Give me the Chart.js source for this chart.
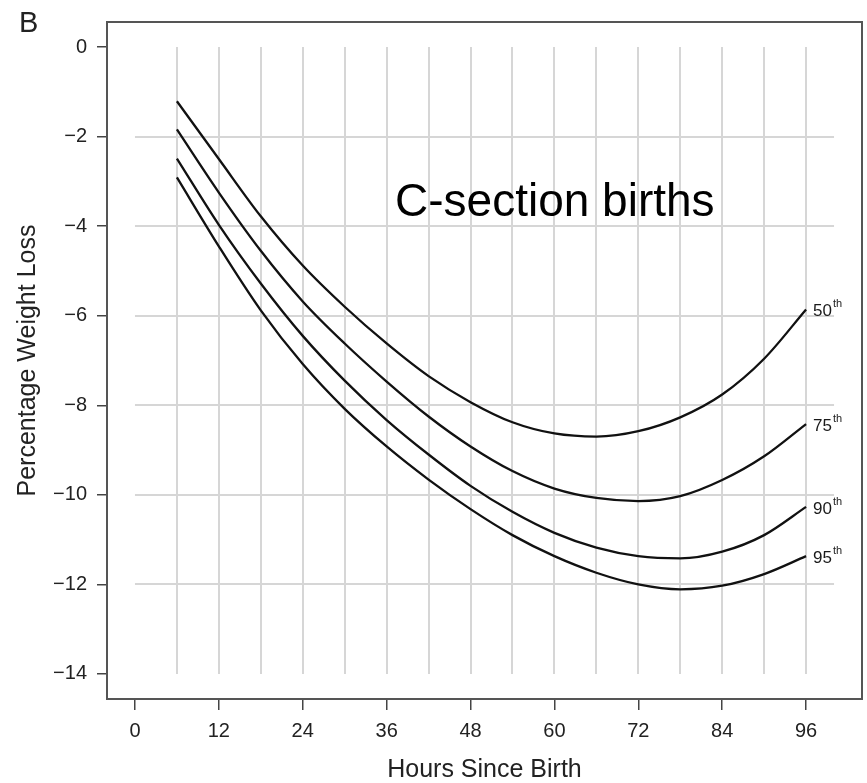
<!DOCTYPE html>
<html lang="en">
<head>
  <meta charset="UTF-8">
  <title>Percentage Weight Loss - C-section births</title>
  <script src="https://cdn.jsdelivr.net/npm/chart.js"></script>
  <style>
    body { margin: 0; padding: 0; background: #fff; }
    canvas { display: block; }
  </style>
</head>
<body>
  <canvas id="chart" width="867" height="783"></canvas>

  <script>
    // hours since birth (one point per vertical grid line)
    const hours = [6, 12, 18, 24, 30, 36, 42, 48, 54, 60, 66, 72, 78, 84, 90, 96];

    // percentage weight loss
    const p50 = [-1.21, -2.50, -3.78, -4.88, -5.80, -6.62, -7.35, -7.93, -8.38, -8.63, -8.70, -8.58, -8.27, -7.76, -6.96, -5.86];
    const p75 = [-1.84, -3.25, -4.55, -5.68, -6.62, -7.47, -8.25, -8.92, -9.47, -9.86, -10.07, -10.14, -10.03, -9.67, -9.14, -8.42];
    const p90 = [-2.49, -3.97, -5.28, -6.45, -7.45, -8.33, -9.10, -9.80, -10.38, -10.85, -11.18, -11.37, -11.42, -11.27, -10.90, -10.27];
    const p95 = [-2.91, -4.45, -5.88, -7.08, -8.08, -8.92, -9.66, -10.32, -10.90, -11.37, -11.74, -12.00, -12.11, -12.03, -11.77, -11.37];

    const pctNames = ['50', '75', '90', '95'];

    const xTicks = [0, 12, 24, 36, 48, 60, 72, 84, 96];
    const yTicks = [0, -2, -4, -6, -8, -10, -12, -14];
    const vGrid = [6, 12, 18, 24, 30, 36, 42, 48, 54, 60, 66, 72, 78, 84, 90, 96];
    const hGrid = [-2, -4, -6, -8, -10, -12];

    const FONT = '"Liberation Sans", Arial, Helvetica, sans-serif';
    Chart.defaults.font.family = FONT;
    Chart.defaults.color = '#222';

    // light grid that only covers the data region, plus the frame and text
    const decor = {
      id: 'decor',
      beforeDatasetsDraw(chart) {
        const ctx = chart.ctx, xs = chart.scales.x, ys = chart.scales.y;
        ctx.save();
        ctx.strokeStyle = '#d6d6d6';
        ctx.lineWidth = 2;
        vGrid.forEach(h => {
          const px = Math.round(xs.getPixelForValue(h));
          ctx.beginPath();
          ctx.moveTo(px, ys.getPixelForValue(0));
          ctx.lineTo(px, ys.getPixelForValue(-14));
          ctx.stroke();
        });
        hGrid.forEach(v => {
          const py = Math.round(ys.getPixelForValue(v));
          ctx.beginPath();
          ctx.moveTo(xs.getPixelForValue(0), py);
          ctx.lineTo(xs.getPixelForValue(100), py);
          ctx.stroke();
        });

        ctx.fillStyle = '#000';
        ctx.font = '46px ' + FONT;
        ctx.textAlign = 'left';
        ctx.textBaseline = 'alphabetic';
        ctx.fillText('C-section births', xs.getPixelForValue(37.2), ys.getPixelForValue(-3.78));
        ctx.restore();
      },
      afterDatasetsDraw(chart) {
        const ctx = chart.ctx, a = chart.chartArea;
        ctx.save();
        ctx.strokeStyle = '#555';
        ctx.lineWidth = 2;
        ctx.strokeRect(a.left, a.top, a.right - a.left, a.bottom - a.top);

        // percentile labels at the line ends
        chart.data.datasets.forEach((ds, i) => {
          const pt = chart.getDatasetMeta(i).data[ds.data.length - 1];
          const x = pt.x + 7, y = pt.y + 2;
          ctx.fillStyle = '#1a1a1a';
          ctx.textBaseline = 'middle';
          ctx.font = '17px ' + FONT;
          ctx.fillText(pctNames[i], x, y);
          const w = ctx.measureText(pctNames[i]).width;
          ctx.font = '11px ' + FONT;
          ctx.fillText('th', x + w + 1, y - 7);
        });

        ctx.font = '29px ' + FONT;
        ctx.fillStyle = '#222';
        ctx.textBaseline = 'alphabetic';
        ctx.fillText('B', 19, 32);
        ctx.restore();
      }
    };

    const series = [p50, p75, p90, p95];
    const datasets = series.map((vals, i) => ({
      label: pctNames[i] + 'th',
      data: hours.map((h, j) => ({ x: h, y: vals[j] })),
      borderColor: '#111',
      borderWidth: 2.3,
      pointRadius: 0,
      cubicInterpolationMode: 'monotone',
      fill: false
    }));

    const minus = v => (v < 0 ? '\u2212' + Math.abs(v) : String(v));

    new Chart(document.getElementById('chart'), {
      type: 'line',
      data: { datasets },
      options: {
        responsive: false,
        animation: false,
        devicePixelRatio: 1,
        layout: { padding: { top: 10, right: 5, left: 0, bottom: 0 } },
        plugins: { legend: { display: false }, tooltip: { enabled: false } },
        scales: {
          x: {
            type: 'linear',
            min: -4, max: 104,
            afterBuildTicks: s => { s.ticks = xTicks.map(v => ({ value: v })); },
            afterFit: s => { s.height = 84; },
            grid: { drawOnChartArea: false, drawTicks: true, tickLength: 11, color: '#444', lineWidth: 1.5 },
            border: { display: false },
            ticks: { font: { size: 20 }, color: '#222', padding: 9, maxRotation: 0, autoSkip: false },
            title: { display: true, text: 'Hours Since Birth', font: { size: 25, lineHeight: 1 }, color: '#222', padding: { top: 0, bottom: 0 } }
          },
          y: {
            type: 'linear',
            min: -14.56, max: 0.56,
            afterBuildTicks: s => { s.ticks = yTicks.map(v => ({ value: v })); },
            afterFit: s => { s.width = 107; },
            grid: { drawOnChartArea: false, drawTicks: true, tickLength: 10, color: '#444', lineWidth: 1.5 },
            border: { display: false },
            ticks: { font: { size: 20 }, color: '#222', padding: 10, callback: minus, autoSkip: false },
            title: { display: true, text: 'Percentage Weight Loss', font: { size: 25, lineHeight: 1.2 }, color: '#222', padding: { top: 13, bottom: 0 } }
          }
        }
      },
      plugins: [decor]
    });
  </script>
</body>
</html>
